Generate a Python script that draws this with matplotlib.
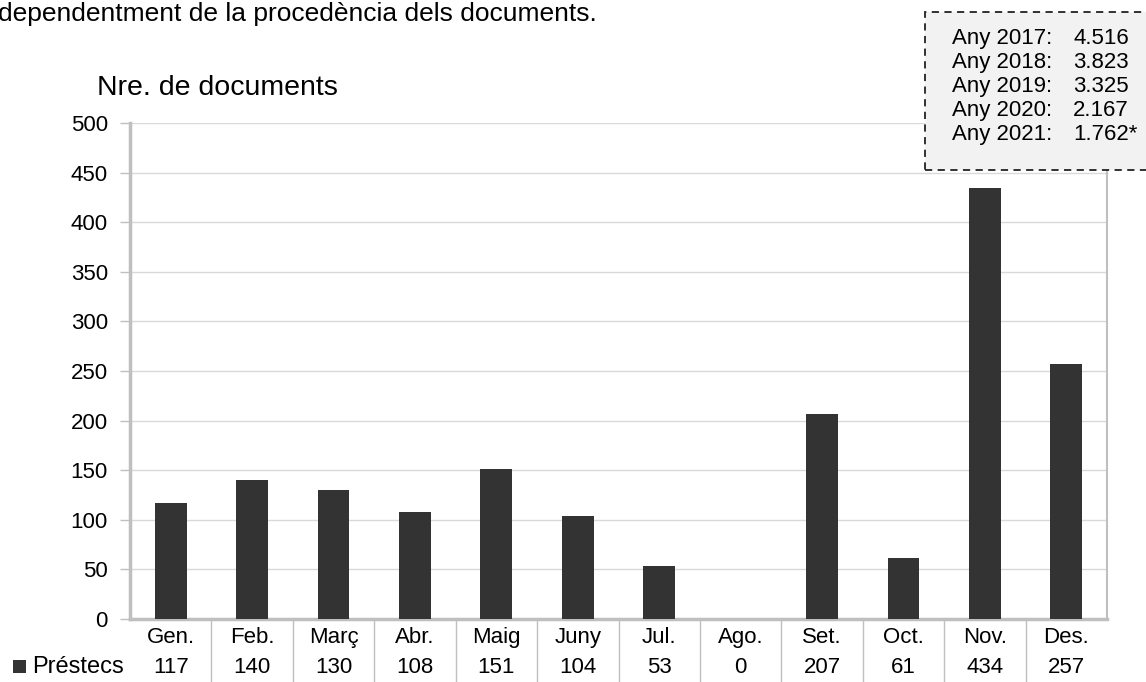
import matplotlib.pyplot as plt
import matplotlib.transforms as mtransforms
from matplotlib.patches import Rectangle

plt.rcParams['font.family'] = ['Liberation Sans', 'DejaVu Sans']

months = ['Gen.', 'Feb.', 'Març', 'Abr.', 'Maig', 'Juny', 'Jul.', 'Ago.', 'Set.', 'Oct.', 'Nov.', 'Des.']
prestecs = [117, 140, 130, 108, 151, 104, 53, 0, 207, 61, 434, 257]
series_name = 'Préstecs'
yticks = [0, 50, 100, 150, 200, 250, 300, 350, 400, 450, 500]
box_years = ['Any 2017:', 'Any 2018:', 'Any 2019:', 'Any 2020:', 'Any 2021:']
box_values = ['4.516', '3.823', '3.325', '2.167', '1.762*']

W, H = 1146, 682
fig = plt.figure(figsize=(W / 100, H / 100), dpi=100)
ax = fig.add_axes([130 / W, 1 - 619 / H, (1107 - 130) / W, (619 - 123) / H])

bar_color = '#333333'
grid_color = '#d9d9d9'
spine_color = '#bfbfbf'
fs = 16

x = list(range(len(months)))
ax.bar(x, prestecs, width=0.39, color=bar_color, zorder=3)

ax.set_xlim(-0.5, len(months) - 0.5)
ax.set_ylim(0, 500)
ax.set_yticks(yticks)
ax.set_xticks([])
ax.tick_params(axis='y', length=7, width=1, color=spine_color, labelsize=fs, pad=9)
ax.grid(True, axis='y', color=grid_color, linewidth=1, zorder=0)
ax.spines['top'].set_visible(False)
for side in ['left', 'bottom']:
    ax.spines[side].set_color(spine_color)
    ax.spines[side].set_linewidth(2.5)
ax.spines['right'].set_color(spine_color)
ax.spines['right'].set_linewidth(1.5)

# data table under the axis
tr = mtransforms.blended_transform_factory(ax.transData, fig.transFigure)
for i, m in enumerate(months):
    ax.text(i, 1 - 643 / H, m, transform=tr, ha='center', va='baseline', fontsize=fs, clip_on=False)
    ax.text(i, 1 - 673 / H, str(prestecs[i]), transform=tr, ha='center', va='baseline', fontsize=fs, clip_on=False)
for i in range(len(months) - 1):
    ax.plot([i + 0.5, i + 0.5], [0, 1 - 619 / H], transform=tr, color=spine_color, linewidth=1, clip_on=False)

fig.patches.append(Rectangle((13 / W, 1 - 673 / H), 13 / W, 13 / H, transform=fig.transFigure,
                             facecolor=bar_color, edgecolor='none'))
fig.text(32 / W, 1 - 673 / H, series_name, ha='left', va='baseline', fontsize=fs + 1)

# titles
fig.text(-2 / W, 1 - 21 / H, 'dependentment de la procedència dels documents.', ha='left', va='baseline', fontsize=19)
fig.text(97 / W, 1 - 95 / H, 'Nre. de documents', ha='left', va='baseline', fontsize=20.5)

# annotation box
fig.patches.append(Rectangle((925 / W, 1 - 170 / H), (1150 - 925) / W, (170 - 12) / H, transform=fig.transFigure,
                             facecolor='#f2f2f2', edgecolor='#222222', linestyle=(0, (4, 3)), linewidth=1.3))
for k, (yr, val) in enumerate(zip(box_years, box_values)):
    yy = 1 - (44 + 24 * k) / H
    fig.text(952 / W, yy, yr, ha='left', va='baseline', fontsize=fs)
    fig.text(1073 / W, yy, val, ha='left', va='baseline', fontsize=fs)

fig.savefig('out.png', dpi=100)
